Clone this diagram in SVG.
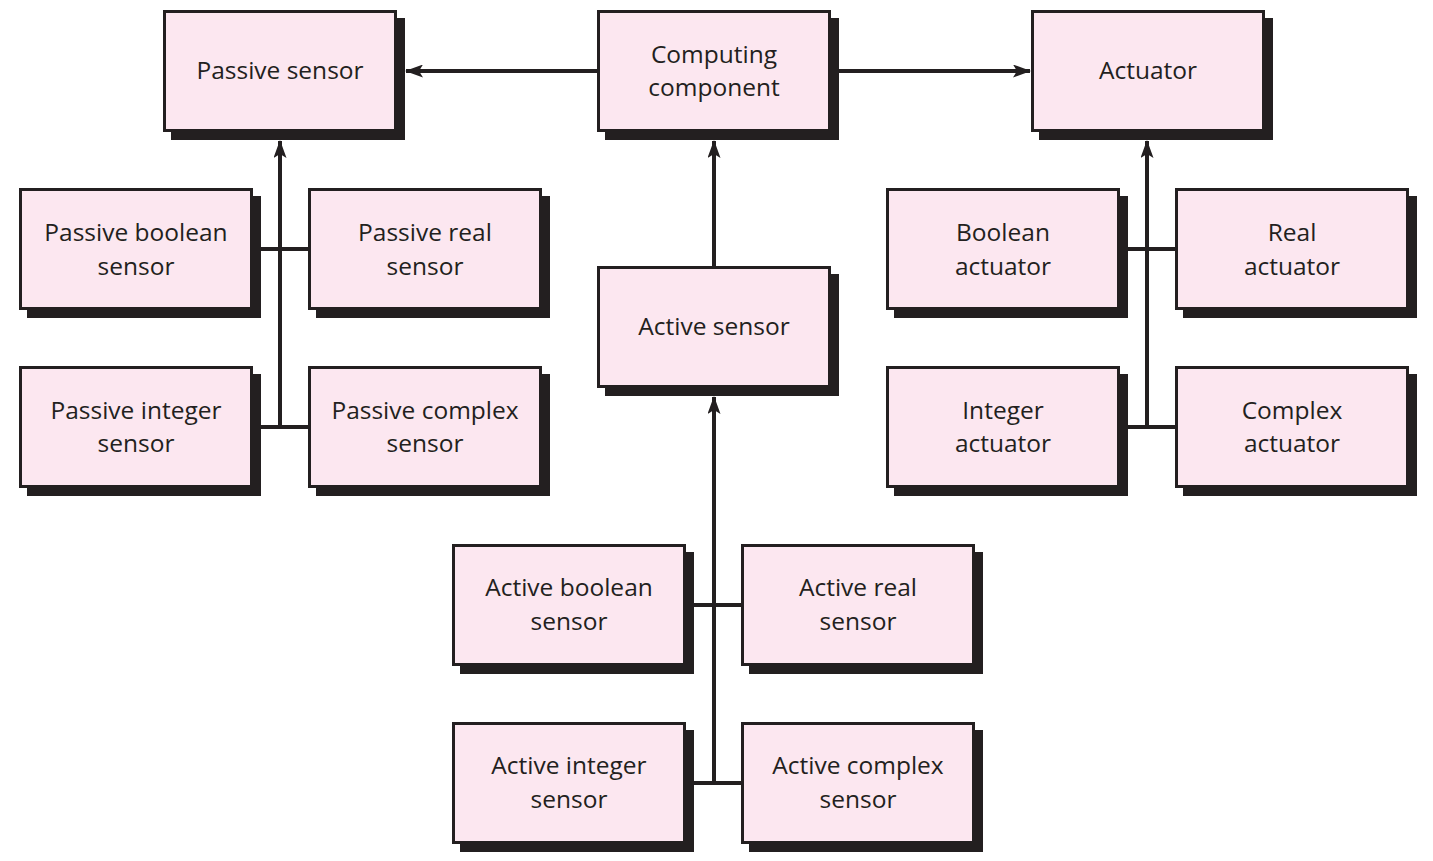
<svg xmlns="http://www.w3.org/2000/svg" width="1433" height="861" viewBox="0 0 1433 861">
<style>
.sh{fill:#231f20}
.bx{fill:#fce7f0;stroke:#231f20;stroke-width:3}
.t{font-family:"Open Sans","Noto Sans",sans-serif;font-size:24.5px;fill:#231f20;text-anchor:middle}
.c{stroke:#231f20;stroke-width:4;fill:none}
</style>
<defs>
<marker id="ah" markerWidth="18" markerHeight="13" refX="17" refY="6.5" orient="auto" markerUnits="userSpaceOnUse">
<path d="M0,0 L18,6.5 L0,13 L4,6.5 Z" fill="#231f20"/>
</marker>
</defs>
<rect width="1433" height="861" fill="#fff"/>
<g id="connectors">
<line class="c" x1="597" y1="71" x2="406" y2="71" marker-end="url(#ah)"/>
<line class="c" x1="838" y1="71" x2="1030" y2="71" marker-end="url(#ah)"/>
<line class="c" x1="714" y1="266" x2="714" y2="141" marker-end="url(#ah)"/>
<line class="c" x1="714" y1="783" x2="714" y2="397" marker-end="url(#ah)"/>
<line class="c" x1="280" y1="427" x2="280" y2="141" marker-end="url(#ah)"/>
<line class="c" x1="1147" y1="427" x2="1147" y2="141" marker-end="url(#ah)"/>
<path class="c" d="M260,249 H308 M260,427 H308 M1127,249 H1175 M1127,427 H1175 M693,605 H741 M693,783 H741"/>
</g>
<g id="passive-sensor"><rect class="sh" x="171" y="18" width="234" height="122"/><rect class="bx" x="164.5" y="11.5" width="231" height="119"/><text class="t" x="280" y="79">Passive sensor</text></g>
<g id="computing-component"><rect class="sh" x="605" y="18" width="234" height="122"/><rect class="bx" x="598.5" y="11.5" width="231" height="119"/><text class="t" x="714" y="63">Computing</text><text class="t" x="714" y="96">component</text></g>
<g id="actuator"><rect class="sh" x="1039" y="18" width="234" height="122"/><rect class="bx" x="1032.5" y="11.5" width="231" height="119"/><text class="t" x="1148" y="79">Actuator</text></g>
<g id="passive-boolean-sensor"><rect class="sh" x="27" y="196" width="234" height="122"/><rect class="bx" x="20.5" y="189.5" width="231" height="119"/><text class="t" x="136" y="241">Passive boolean</text><text class="t" x="136" y="275">sensor</text></g>
<g id="passive-real-sensor"><rect class="sh" x="316" y="196" width="234" height="122"/><rect class="bx" x="309.5" y="189.5" width="231" height="119"/><text class="t" x="425" y="241">Passive real</text><text class="t" x="425" y="275">sensor</text></g>
<g id="passive-integer-sensor"><rect class="sh" x="27" y="374" width="234" height="122"/><rect class="bx" x="20.5" y="367.5" width="231" height="119"/><text class="t" x="136" y="419">Passive integer</text><text class="t" x="136" y="452">sensor</text></g>
<g id="passive-complex-sensor"><rect class="sh" x="316" y="374" width="234" height="122"/><rect class="bx" x="309.5" y="367.5" width="231" height="119"/><text class="t" x="425" y="419">Passive complex</text><text class="t" x="425" y="452">sensor</text></g>
<g id="active-sensor"><rect class="sh" x="605" y="274" width="234" height="122"/><rect class="bx" x="598.5" y="267.5" width="231" height="119"/><text class="t" x="714" y="335">Active sensor</text></g>
<g id="boolean-actuator"><rect class="sh" x="894" y="196" width="234" height="122"/><rect class="bx" x="887.5" y="189.5" width="231" height="119"/><text class="t" x="1003" y="241">Boolean</text><text class="t" x="1003" y="275">actuator</text></g>
<g id="real-actuator"><rect class="sh" x="1183" y="196" width="234" height="122"/><rect class="bx" x="1176.5" y="189.5" width="231" height="119"/><text class="t" x="1292" y="241">Real</text><text class="t" x="1292" y="275">actuator</text></g>
<g id="integer-actuator"><rect class="sh" x="894" y="374" width="234" height="122"/><rect class="bx" x="887.5" y="367.5" width="231" height="119"/><text class="t" x="1003" y="419">Integer</text><text class="t" x="1003" y="452">actuator</text></g>
<g id="complex-actuator"><rect class="sh" x="1183" y="374" width="234" height="122"/><rect class="bx" x="1176.5" y="367.5" width="231" height="119"/><text class="t" x="1292" y="419">Complex</text><text class="t" x="1292" y="452">actuator</text></g>
<g id="active-boolean-sensor"><rect class="sh" x="460" y="552" width="234" height="122"/><rect class="bx" x="453.5" y="545.5" width="231" height="119"/><text class="t" x="569" y="596">Active boolean</text><text class="t" x="569" y="630">sensor</text></g>
<g id="active-real-sensor"><rect class="sh" x="749" y="552" width="234" height="122"/><rect class="bx" x="742.5" y="545.5" width="231" height="119"/><text class="t" x="858" y="596">Active real</text><text class="t" x="858" y="630">sensor</text></g>
<g id="active-integer-sensor"><rect class="sh" x="460" y="730" width="234" height="122"/><rect class="bx" x="453.5" y="723.5" width="231" height="119"/><text class="t" x="569" y="774">Active integer</text><text class="t" x="569" y="808">sensor</text></g>
<g id="active-complex-sensor"><rect class="sh" x="749" y="730" width="234" height="122"/><rect class="bx" x="742.5" y="723.5" width="231" height="119"/><text class="t" x="858" y="774">Active complex</text><text class="t" x="858" y="808">sensor</text></g>
</svg>
